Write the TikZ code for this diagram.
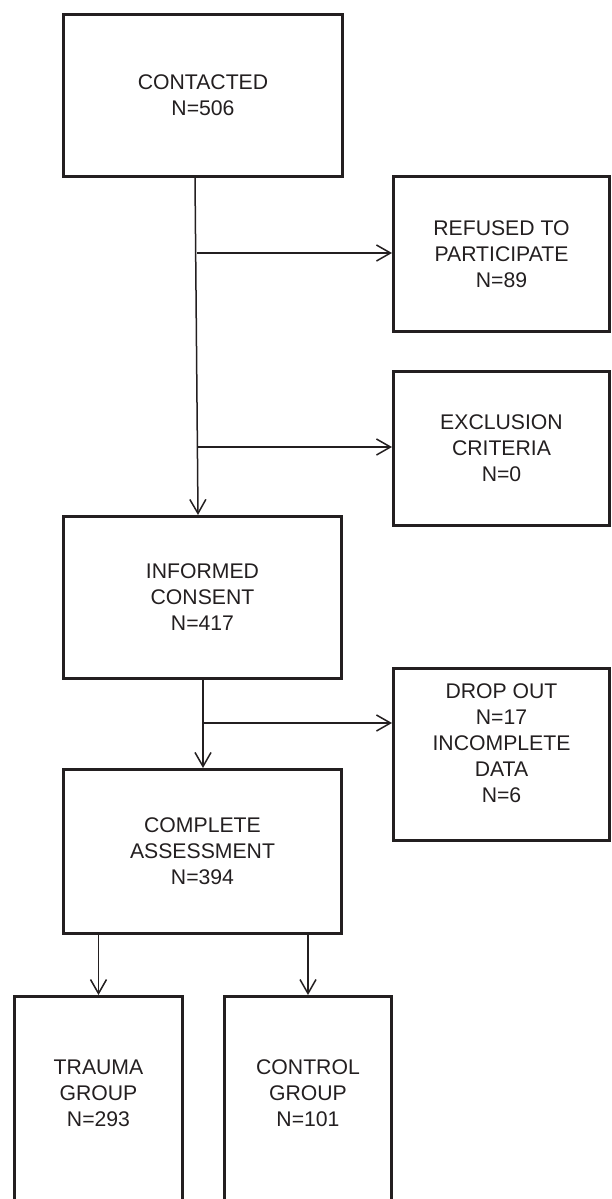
\documentclass[tikz,border=0pt]{standalone}
\usepackage{fontspec}
\setmainfont{Liberation Sans}
\usetikzlibrary{arrows.meta}
\definecolor{ink}{HTML}{231F20}
\tikzset{
	% ------- every something
	every node/.style={
		font=\fontsize{10.6}{13}\selectfont,
		align=center,
		text=ink,
	},
	% ------- custom
	vector/.style={
		line width=0.75pt,
		-{Straight Barb[length=7pt,width=8pt]},
	},
	stagebox/.style={
		draw=ink,
		line width=1.65pt,
		inner sep=0pt,
	},
	stagetext/.style={
		inner sep=0pt,
	},
}

\begin{document}
\begin{tikzpicture}[x=0.5pt, y=-0.5pt, color=ink]

% frame %{{{1

	\useasboundingbox (0,0) rectangle (611,1199);
	\clip (0,0) rectangle (611,1199);

% main column %{{{1

	\node[stagebox, minimum width=139.4pt, minimum height=80.9pt] (contacted) at (203,95.5)
		{CONTACTED\\N=506};
	\node[stagebox, minimum width=138.9pt, minimum height=80.9pt] (informed) at (202.5,597.5)
		{INFORMED\\CONSENT\\N=417};
	\node[stagebox, minimum width=138.9pt, minimum height=81.9pt] (complete) at (202.5,851.5)
		{COMPLETE\\ASSESSMENT\\N=394};

% side boxes %{{{1

	\node[stagebox, minimum width=107.9pt, minimum height=77.4pt] (refused) at (501.5,254)
		{REFUSED TO\\PARTICIPATE\\N=89};
	\node[stagebox, minimum width=107.9pt, minimum height=76.9pt] (exclusion) at (501.5,448.5)
		{EXCLUSION\\CRITERIA\\N=0};
	\node[stagebox, minimum width=107.9pt, minimum height=85.9pt] (dropout) at (501.5,754.5) {};

	\node[stagetext] (dropoutlabel) at (501.5,743) {DROP OUT\\N=17\\INCOMPLETE\\DATA\\N=6};

% groups %{{{1

	\node[stagebox, anchor=north, minimum width=83.9pt, minimum height=130pt] (trauma) at (98.5,995) {};
	\node[stagebox, anchor=north, minimum width=83.4pt, minimum height=130pt] (control) at (308,995) {};

	\node[stagetext] (traumalabel)  at (98.5,1093) {TRAUMA\\GROUP\\N=293};
	\node[stagetext] (controllabel) at (308,1093)  {CONTROL\\GROUP\\N=101};

% split points %{{{1

	\coordinate (split1) at (197,253);
	\coordinate (split2) at (197.5,447);
	\coordinate (split3) at (203,723);

% arrows %{{{1

	\draw[vector] ([xshift=-4pt]contacted.south) -- ([xshift=-2.25pt]informed.north);
	\draw[vector] (split1) -- (split1 -| refused.west);
	\draw[vector] (split2) -- (split2 -| exclusion.west);

	\draw[vector] ([xshift=0.25pt]informed.south) -- ([xshift=0.25pt]complete.north);
	\draw[vector] (split3) -- (split3 -| dropout.west);

	\draw[vector] (complete.south -| trauma.north) -- (trauma.north);
	\draw[vector] (complete.south -| control.north) -- (control.north);

% closing %{{{1

\end{tikzpicture}
\end{document}
